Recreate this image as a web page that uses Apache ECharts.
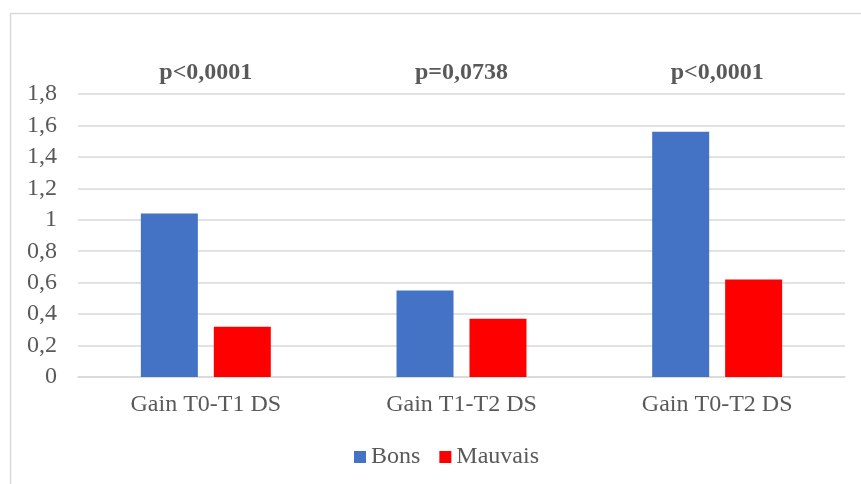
<!doctype html>
<html lang="fr">
<head>
    <meta charset="UTF-8">
    <title>Gain DS</title>
    <script src="https://cdn.jsdelivr.net/npm/echarts@6/dist/echarts.min.js"></script>
    <style>
        html, body { margin: 0; padding: 0; background: #fff; }
        #main { width: 861px; height: 484px; }
    </style>
</head>
<body>
<div id="main"></div>
<script>
    // données
    const categories = ['Gain T0-T1 DS', 'Gain T1-T2 DS', 'Gain T0-T2 DS'];
    const pValues = ['p<0,0001', 'p=0,0738', 'p<0,0001'];
    const bons = [1.04, 0.55, 1.56];
    const mauvais = [0.32, 0.37, 0.62];

    const font = "'Liberation Serif', 'Times New Roman', serif";
    const grey = '#595959';

    let myChart = echarts.init(document.getElementById('main'));

    let option = {
        animation: false,
        textStyle: { fontFamily: font },
        graphic: [{
            type: 'rect',
            shape: { x: 10.5, y: 13.5, width: 900, height: 520 },
            style: { fill: 'none', stroke: '#d9d9d9', lineWidth: 1.5 },
            silent: true
        }],
        grid: { left: 78, right: 16, top: 94, bottom: 107 },
        legend: {
            data: ['Bons', 'Mauvais'],
            left: 349,
            top: 440,
            itemWidth: 12,
            itemHeight: 12,
            itemGap: 19,
            icon: 'rect',
            textStyle: { fontFamily: font, fontSize: 24, color: grey }
        },
        xAxis: [{
            type: 'category',
            data: categories,
            axisLine: { lineStyle: { color: '#d9d9d9', width: 1.5 } },
            axisTick: { show: false },
            axisLabel: { fontFamily: font, fontSize: 24, color: grey, margin: 16 }
        }, {
            type: 'category',
            position: 'top',
            data: pValues,
            axisLine: { show: false },
            axisTick: { show: false },
            axisLabel: { fontFamily: font, fontSize: 24, fontWeight: 'bold', color: grey, margin: 9 }
        }],
        yAxis: {
            type: 'value',
            min: 0,
            max: 1.8,
            interval: 0.2,
            axisLine: { show: false },
            axisTick: { show: false },
            splitLine: { lineStyle: { color: '#d9d9d9', width: 1.5 } },
            axisLabel: {
                fontFamily: font, fontSize: 24, color: grey, margin: 21,
                formatter: function (v) { return String(Math.round(v * 10) / 10).replace('.', ','); }
            }
        },
        series: [{
            name: 'Bons',
            type: 'bar',
            data: bons,
            barWidth: 57,
            barGap: '28%',
            itemStyle: { color: '#4472c4' }
        }, {
            name: 'Mauvais',
            type: 'bar',
            data: mauvais,
            barWidth: 57,
            itemStyle: { color: '#ff0000' }
        }]
    };

    myChart.setOption(option);
</script>
</body>
</html>
